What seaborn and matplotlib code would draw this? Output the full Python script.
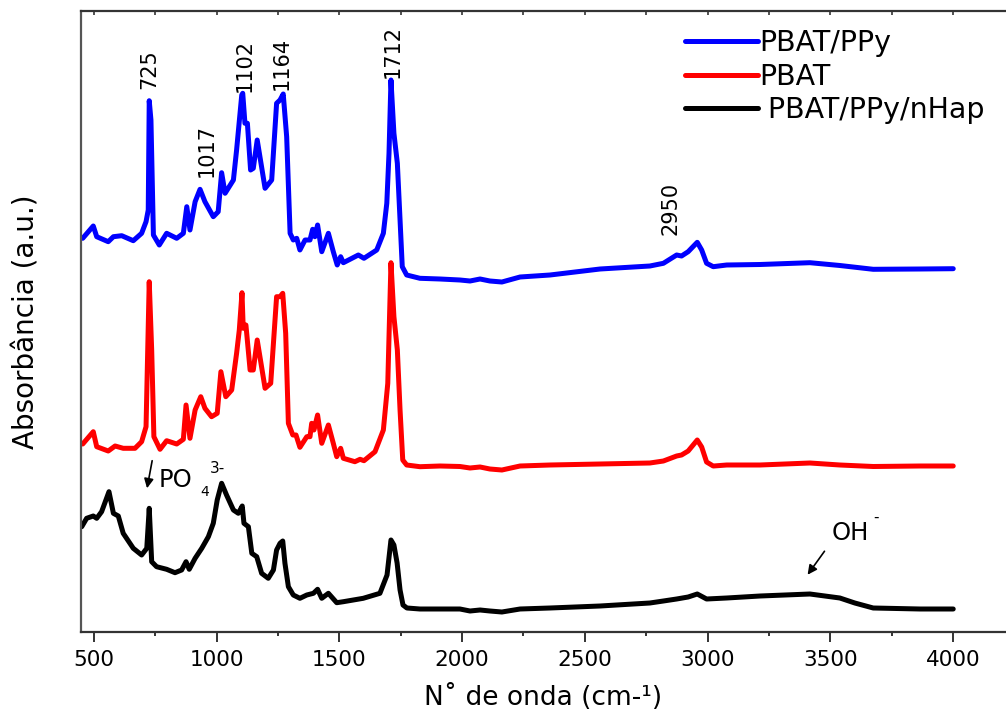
import numpy as np
import pandas as pd
import matplotlib
matplotlib.use("Agg")
import matplotlib.pyplot as plt
import seaborn as sns

# ---------------- data ----------------
wn_ppy = [454, 497, 511, 558, 579, 613, 660, 694, 712, 721, 725, 732, 742, 766, 796, 837, 864,
          878, 891, 912, 932, 952, 986, 1006, 1020, 1034, 1068, 1081, 1102, 1106, 1115, 1125,
          1138, 1149, 1165, 1197, 1224, 1244, 1258, 1271, 1285, 1299, 1312, 1326, 1339, 1360,
          1380, 1391, 1400, 1411, 1428, 1455, 1475, 1491, 1505, 1516, 1543, 1577, 1600, 1652,
          1679, 1693, 1702, 1710, 1722, 1736, 1747, 1756, 1774, 1828, 1910, 1991, 2032, 2073,
          2113, 2162, 2236, 2358, 2562, 2765, 2820, 2874, 2894, 2921, 2958, 2976, 2996, 3023,
          3078, 3214, 3417, 3539, 3675, 3866, 4001]
abs_ppy = [393.7, 406, 395.3, 390.3, 395.3, 396.3, 391.3, 398.7, 410.3, 422, 531.3, 512, 397,
           387, 398.7, 393.7, 398.7, 425.3, 402, 430.3, 442.7, 430.3, 415.3, 420.3, 459.3, 438.7,
           452, 482, 537, 538.7, 508.7, 508.7, 462, 463.7, 492, 443.7, 452, 528.7, 532, 538,
           495.3, 398.7, 392, 393.7, 382, 392, 392, 402.7, 395.3, 407, 380.3, 398.7, 380.3, 367,
           375.3, 369.3, 372.7, 377, 373.7, 382, 398.7, 428.7, 478.7, 552, 498.7, 468.7, 412,
           365.3, 357, 353.7, 353, 352, 351, 353, 351, 350, 355, 357, 363, 366, 368.7, 377, 376,
           380.3, 389.7, 382, 368.7, 365.3, 367, 367.5, 369.3, 366.5, 362.7, 363, 363.3]

wn_pbat = [454, 497, 511, 558, 586, 619, 667, 694, 712, 725, 735, 744, 769, 796, 837, 864, 875,
           891, 912, 935, 952, 979, 1002, 1017, 1037, 1061, 1081, 1092, 1103, 1108, 1119, 1136,
           1149, 1165, 1197, 1220, 1244, 1258, 1269, 1281, 1292, 1310, 1323, 1339, 1367, 1380,
           1387, 1396, 1411, 1428, 1455, 1475, 1489, 1505, 1516, 1563, 1584, 1600, 1645, 1679,
           1697, 1710, 1722, 1736, 1747, 1758, 1774, 1828, 1910, 1991, 2032, 2073, 2113, 2162,
           2236, 2358, 2562, 2765, 2820, 2874, 2894, 2921, 2958, 2976, 2996, 3023, 3078, 3214,
           3417, 3539, 3675, 3866, 4001]
abs_pbat = [188, 200.3, 185.3, 181, 186, 183.7, 183.7, 190.3, 205.3, 350.3, 282, 195.3, 182.7,
            191.3, 188, 192.7, 227, 193.7, 222, 235.3, 223.7, 215.3, 218.7, 260.3, 235.3, 242,
            278.7, 302, 339.3, 303.7, 307, 262, 262, 292, 243.7, 248.7, 335.3, 335.3, 338.7,
            298.7, 208.7, 197, 197, 184.7, 195.3, 195.3, 208.7, 202, 217, 188.7, 207, 188.7,
            175.3, 183.7, 173.7, 170.3, 172.7, 171.3, 180.3, 202, 248.7, 369.3, 315.3, 282, 222,
            172, 167, 165.3, 166, 165.5, 164, 165, 163, 162, 166, 167, 168, 169, 171, 176, 177,
            181, 192, 185, 170, 166, 167, 167, 169, 167, 165.5, 166, 166]

wn_nhap = [450, 470, 497, 511, 531, 561, 579, 599, 619, 660, 694, 715, 725, 735, 755, 796, 830,
           857, 875, 888, 912, 939, 966, 986, 1002, 1020, 1040, 1068, 1088, 1104, 1111, 1129,
           1143, 1163, 1183, 1210, 1231, 1244, 1258, 1269, 1278, 1292, 1312, 1339, 1367, 1394,
           1411, 1428, 1455, 1489, 1516, 1597, 1665, 1694, 1710, 1722, 1735, 1747, 1759, 1775,
           1828, 1991, 2032, 2073, 2113, 2162, 2236, 2358, 2562, 2765, 2820, 2874, 2921, 2958,
           2996, 3078, 3214, 3417, 3539, 3600, 3675, 3866, 4001]
abs_nhap = [105.3, 113.7, 116, 113.7, 120.3, 140.3, 118.7, 116, 98.7, 83.7, 77, 83.7, 123.7,
            70.3, 65.3, 62.7, 59.3, 62, 70.3, 62.7, 73.7, 83.7, 95.3, 108.7, 132, 148.7, 137,
            122, 118.7, 126, 108.7, 105.3, 78.7, 75.3, 58.7, 53.7, 62, 82, 88.7, 91, 68.7, 45.3,
            37, 33.7, 37, 38.7, 42.7, 33.7, 38.7, 29.3, 30.3, 33.7, 38.7, 57, 92, 87, 69, 42, 27,
            24, 23, 23, 21, 22, 21, 20, 23, 24, 26, 29, 31, 33, 35, 38, 33, 34, 36, 38, 34, 29,
            24, 23, 23]

series_names = ["PBAT/PPy", "PBAT", " PBAT/PPy/nHap"]
series_colors = ["#0000ff", "#ff0000", "#000000"]
xticks_major = [500, 1000, 1500, 2000, 2500, 3000, 3500, 4000]
peak_labels = ["725", "1017", "1102", "1164", "1712", "2950"]

# ---------------- styling ----------------
sns.set_theme(style="white")
plt.rcParams["font.family"] = ["DejaVu Sans"]
plt.rcParams["axes.edgecolor"] = "#333333"
plt.rcParams["text.color"] = "black"
plt.rcParams["axes.labelcolor"] = "black"
plt.rcParams["xtick.color"] = "black"

W, H = 1006, 713
fig = plt.figure(figsize=(W / 100, H / 100), dpi=100)
ax = fig.add_axes([81 / W, 1 - 632 / H, (W - 81) / W, 621 / H])

df = pd.concat([
    pd.DataFrame({"wn": wn_ppy, "A": abs_ppy, "s": series_names[0]}),
    pd.DataFrame({"wn": wn_pbat, "A": abs_pbat, "s": series_names[1]}),
    pd.DataFrame({"wn": wn_nhap, "A": abs_nhap, "s": series_names[2]}),
], ignore_index=True)

sns.lineplot(data=df, x="wn", y="A", hue="s", hue_order=series_names,
             palette=series_colors, estimator=None, sort=False, lw=3.6, ax=ax,
             solid_joinstyle="round", solid_capstyle="round")

ax.set_xlim(447, 4216)
ax.set_ylim(0, 621)
ax.set_yticks([])
ax.set_xticks(xticks_major)
ax.set_xticks([750, 1250, 1750, 2250, 2750, 3250, 3750], minor=True)
ax.tick_params(axis="x", which="major", direction="out", length=7, width=1.4,
               colors="#333333", labelcolor="black", labelsize=15.5, pad=6, bottom=True)
ax.tick_params(axis="x", which="minor", direction="out", length=3, width=1.4,
               colors="#333333", bottom=True)
ax.spines["right"].set_visible(False)
for sp in ["left", "bottom", "top"]:
    ax.spines[sp].set_linewidth(1.6)
ax.spines["left"].set_color("#555555")

sec = ax.secondary_xaxis("top")
sec.set_xticks(np.arange(500, 4001, 250))
sec.tick_params(direction="in", length=3, width=1.2, colors="#333333", labeltop=False)
sec.spines["top"].set_visible(False)

ax.set_xlabel("N˚ de onda (cm-¹)", fontsize=19, labelpad=10)
ax.set_ylabel("Absorbância (a.u.)", fontsize=20)
ax.yaxis.set_label_coords(-0.044, 0.5)

# legend
leg = ax.legend(loc="upper left", bbox_to_anchor=(685 / W, 1 - 29 / H),
                bbox_transform=fig.transFigure, frameon=False, fontsize=20.5,
                handlelength=2.55, handletextpad=0.05, labelspacing=0.2,
                borderpad=0, borderaxespad=0)
for line in leg.get_lines():
    line.set_linewidth(3.6)

# peak labels (rotated)
peak_pos = [(726, 543), (960, 455), (1113, 540), (1266, 542), (1718, 554), (2851, 397)]
for lab, (px, py) in zip(peak_labels, peak_pos):
    ax.text(px, py, lab, rotation=90, ha="center", va="bottom", fontsize=15)

# PO4 3- annotation
ax.text(765, 145, "PO", fontsize=17.5, ha="left", va="baseline")
ax.text(932, 136, "4", fontsize=10, ha="left", va="baseline")
ax.text(973, 159, "3-", fontsize=11, ha="left", va="baseline")
ax.annotate("", xy=(714, 141), xytext=(739, 174),
            arrowprops=dict(arrowstyle="-|>", lw=1.2, color="black", mutation_scale=14))

# OH- annotation
ax.text(3507, 92, "OH", fontsize=17.5, ha="left", va="baseline")
ax.text(3674, 110, "-", fontsize=11, ha="left", va="baseline")
ax.annotate("", xy=(3401, 55), xytext=(3483, 83),
            arrowprops=dict(arrowstyle="-|>", lw=1.2, color="black", mutation_scale=14))

fig.savefig("out.png", dpi=100)
